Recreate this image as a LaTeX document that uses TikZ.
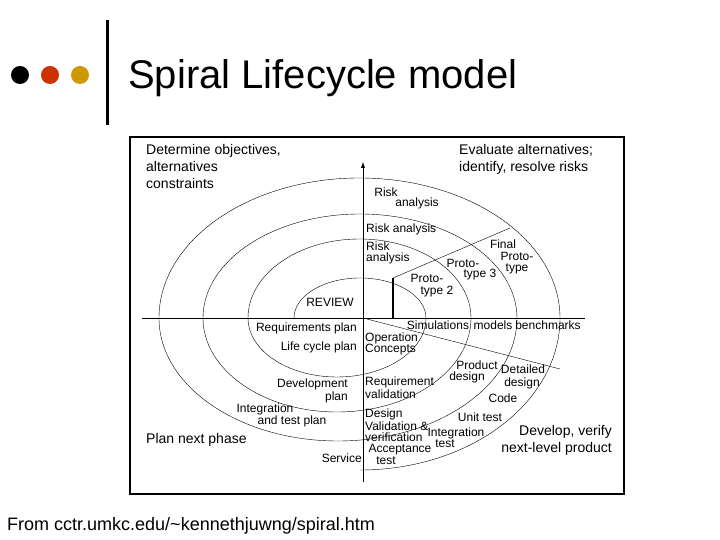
\documentclass[tikz,border=0pt]{standalone}
\usepackage{fontspec}
\setmainfont{Liberation Sans}
\usetikzlibrary{arrows.meta}
\definecolor{dotred}{HTML}{CC3300}
\definecolor{dotgold}{HTML}{CC9900}
\tikzset{
  lbl/.style={inner sep=0pt, font=\fontsize{12}{11}\selectfont},
  big/.style={inner sep=0pt, font=\fontsize{14}{17}\selectfont, align=left}
}
\begin{document}
\begin{tikzpicture}[x=1pt,y=1pt]
\useasboundingbox (0,0) rectangle (720,540);

			% Header
			\fill[black] (20,465) circle (9pt);
			\fill[dotred] (50,465) circle (9pt);
			\fill[dotgold] (80,465) circle (9pt);
			\draw[line width=3pt] (107,520) -- (107,415);
			\node[anchor=west, inner sep=0pt, font=\fontsize{40}{40}\selectfont] (title) at (128,462) {Spiral Lifecycle model};

			% Frame
			\draw[line width=2pt] (130,403) rectangle (624,46);

			% Axes
			\draw (142,222) -- (585,222);
			\draw[-{Latex[length=6pt,width=4pt]}] (363,58) -- (363,378);

			% Spiral
			\draw (294,222) arc (180:0:66 and 40)
			  arc (0:-180:89 and 59)
			  arc (180:0:111.5 and 79)
			  arc (0:-180:134 and 94)
			  arc (180:0:157 and 104)
			  arc (0:-180:179 and 123)
			  arc (180:0:200.5 and 140)
			  arc (0:-90:200 and 152);

			% Prototype lines
			\draw[line width=1.2pt] (393,222) -- (393,262);
			\draw (393,262) -- (510,312);
			\draw (363,222) -- (560,171);

			% Quadrant texts
			\node[big, anchor=north west] (q1) at (146,396) {Determine objectives,\\alternatives\\constraints};
			\node[big, anchor=north west] (q2) at (459,396) {Evaluate alternatives;\\identify, resolve risks};
			\node[big, anchor=west] (q3) at (146,100) {Plan next phase};
			\node[big, anchor=north east, align=right] (q4) at (612,115) {Develop, verify\\next-level product};

			% Labels
			\node[lbl] (r1) at (386,348) {Risk};
			\node[lbl] (r1b) at (417,337) {analysis};
			\node[lbl, anchor=west] (r2) at (366,311) {Risk analysis};
			\node[lbl, anchor=north west, align=left] (r3) at (366,298) {Risk\\analysis};
			\node[lbl] (fp) at (503,296) {Final};
			\node[lbl, align=center] (fpb) at (517,277) {Proto-\\type};
			\node[lbl] (p3) at (463,277) {Proto-};
			\node[lbl] (p3b) at (480,265) {type 3};
			\node[lbl] (p2) at (427,262) {Proto-};
			\node[lbl] (p2b) at (437,248) {type 2};
			\node[lbl] (rev) at (330,238) {REVIEW};
			\node[lbl] (sim) at (438,215) {Simulations};
			\node[lbl] (mod) at (493,215) {models};
			\node[lbl] (bench) at (548,215) {benchmarks};
			\node[lbl, anchor=east] (reqp) at (357,212) {Requirements plan};
			\node[lbl, anchor=east] (lcp) at (357,193) {Life cycle plan};
			\node[lbl, anchor=north west, align=left] (opc) at (365,207) {Operation\\Concepts};
			\node[lbl] (pd) at (477,175) {Product};
			\node[lbl] (pdb) at (467,163) {design};
			\node[lbl] (dd) at (523,171) {Detailed};
			\node[lbl] (ddb) at (522,157) {design};
			\node[lbl, anchor=north east, align=right] (devp) at (348,161) {Development\\plan};
			\node[lbl, anchor=north west, align=left] (reqv) at (365,163) {Requirement\\validation};
			\node[lbl] (code) at (503,142) {Code};
			\node[lbl] (itp) at (265,131) {Integration};
			\node[lbl] (itpb) at (292,119) {and test plan};
			\node[lbl, anchor=north west, align=left] (dvv) at (365,131) {Design\\Validation \&\\verification};
			\node[lbl] (ut) at (480,123) {Unit test};
			\node[lbl] (it) at (456,107) {Integration};
			\node[lbl] (itb) at (445,96) {test};
			\node[lbl, anchor=east] (serv) at (362,82) {Service};
			\node[lbl] (acc) at (400,90) {Acceptance};
			\node[lbl] (accb) at (386,79) {test};

			% Source
			\node[anchor=west, inner sep=0pt, font=\fontsize{18}{18}\selectfont] (src) at (7,14) {From cctr.umkc.edu/\textasciitilde kennethjuwng/spiral.htm};

\end{tikzpicture}
\end{document}
